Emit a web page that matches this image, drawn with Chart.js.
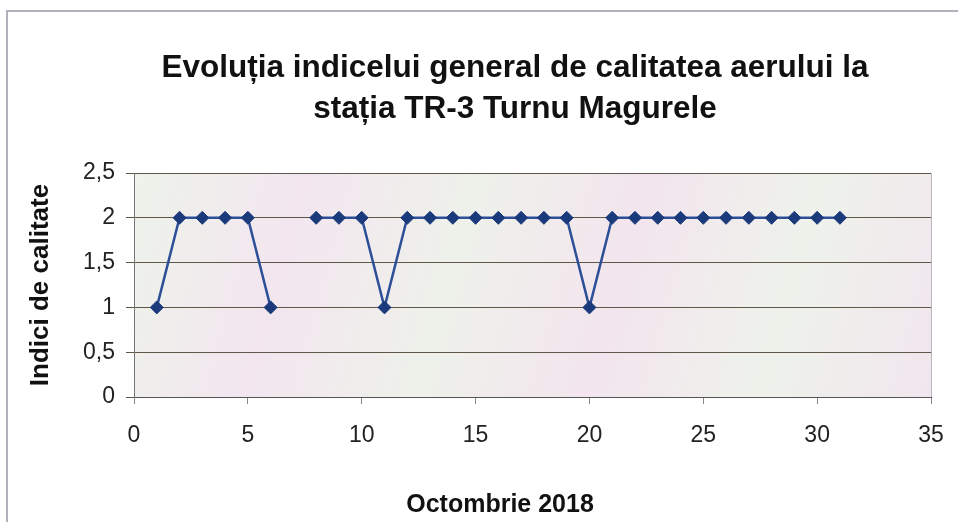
<!DOCTYPE html>
<html>
<head>
<meta charset="utf-8">
<title>Indice calitate aer TR-3</title>
<script src="https://cdn.jsdelivr.net/npm/chart.js@4/dist/chart.umd.min.js"></script>
<style>
  body { margin: 0; background: #fff; }
  canvas { display: block; }
</style>
</head>
<body>
<canvas id="aqChart" width="958" height="522"></canvas>
<script>
// Zilele lunii (octombrie 2018)
const days = [1, 2, 3, 4, 5, 6, 7, 8, 9, 10, 11, 12, 13, 14, 15, 16, 17, 18, 19, 20,
              21, 22, 23, 24, 25, 26, 27, 28, 29, 30, 31];
// Indicele general (ziua 7 lipsa)
const indexValues = [1, 2, 2, 2, 2, 1, null, 2, 2, 2, 1, 2, 2, 2, 2, 2, 2, 2, 2, 1,
                     2, 2, 2, 2, 2, 2, 2, 2, 2, 2, 2];
const xTicks = [0, 5, 10, 15, 20, 25, 30, 35];
const yTicks = [0, 0.5, 1, 1.5, 2, 2.5];

const chartTitle = ['Evoluția indicelui general de calitatea aerului la', 'stația TR-3 Turnu Magurele'];
const xTitle = 'Octombrie 2018';
const yTitle = 'Indici de calitate';

const FONT = '"Liberation Sans", Arial, sans-serif';

// Fundal pastel al zonei de grafic, chenar exterior, titluri
const decorPlugin = {
    id: 'decor',
    beforeDraw(chart) {
        const { ctx, chartArea: a } = chart;
        ctx.save();
        const g = ctx.createLinearGradient(a.left, a.top, a.right, a.bottom);
        g.addColorStop(0, '#edf3ea');
        g.addColorStop(0.2, '#f3e6ef');
        g.addColorStop(0.4, '#eef1ea');
        g.addColorStop(0.6, '#f3e5ee');
        g.addColorStop(0.8, '#eef2eb');
        g.addColorStop(1, '#f1e6ee');
        ctx.fillStyle = g;
        ctx.fillRect(a.left, a.top, a.right - a.left, a.bottom - a.top);
        ctx.strokeStyle = '#b8b8c0';
        ctx.lineWidth = 1;
        ctx.strokeRect(a.left + 0.5, a.top + 0.5, a.right - a.left, a.bottom - a.top);
        // chenar exterior (doar sus si stanga vizibile)
        ctx.strokeStyle = '#b4b0bc';
        ctx.lineWidth = 2;
        ctx.beginPath();
        ctx.moveTo(7, chart.height);
        ctx.lineTo(7, 11);
        ctx.lineTo(chart.width, 11);
        ctx.stroke();
        ctx.restore();
    },
    afterDraw(chart) {
        const { ctx } = chart;
        ctx.save();
        ctx.fillStyle = '#111';
        ctx.textAlign = 'center';
        ctx.textBaseline = 'alphabetic';
        ctx.font = 'bold 31.5px ' + FONT;
        ctx.fillText(chartTitle[0], 515, 77);
        ctx.fillText(chartTitle[1], 515, 118);
        ctx.font = 'bold 25px ' + FONT;
        ctx.fillText(xTitle, 500, 512);
        ctx.restore();
    }
};

new Chart(document.getElementById('aqChart'), {
    type: 'line',
    data: {
        labels: days,
        datasets: [{
            data: days.map((d, i) => ({ x: d, y: indexValues[i] })),
            borderColor: '#2c4f98',
            borderWidth: 2.5,
            backgroundColor: '#1b3a7c',
            pointBackgroundColor: '#1b3a7c',
            pointBorderColor: '#1b3a7c',
            pointBorderWidth: 1,
            pointStyle: 'rectRot',
            pointRadius: 6.5,
            spanGaps: false,
            tension: 0
        }]
    },
    options: {
        responsive: false,
        animation: false,
        layout: { padding: { left: 0, right: 27, top: 173, bottom: 0 } },
        plugins: {
            legend: { display: false },
            tooltip: { enabled: false },
            title: { display: false }
        },
        scales: {
            x: {
                type: 'linear',
                min: 0,
                max: 35,
                afterBuildTicks(scale) { scale.ticks = xTicks.map(v => ({ value: v })); },
                afterFit(scale) {
                    scale.height = 125;
                    scale.paddingLeft = 0;
                    scale.paddingRight = 0;
                },
                border: { display: true, color: '#555', width: 1 },
                grid: { drawOnChartArea: false, drawTicks: true, tickLength: 7, color: '#888' },
                ticks: {
                    color: '#222',
                    padding: 18,
                    font: { family: FONT, size: 23 },
                    maxRotation: 0
                }
            },
            y: {
                type: 'linear',
                min: 0,
                max: 2.5,
                afterBuildTicks(scale) { scale.ticks = yTicks.map(v => ({ value: v })); },
                afterFit(scale) { scale.width = 134; },
                border: { display: true, color: '#777', width: 1 },
                grid: { color: '#5e574a', lineWidth: 1, drawTicks: true, tickLength: 8 },
                ticks: {
                    color: '#222',
                    padding: 11,
                    font: { family: FONT, size: 23 },
                    callback: v => String(v).replace('.', ',')
                },
                title: {
                    display: true,
                    text: yTitle,
                    color: '#111',
                    font: { family: FONT, size: 26, weight: 'bold', lineHeight: 1.2 },
                    padding: { top: 25, bottom: 0 }
                }
            }
        }
    },
    plugins: [decorPlugin]
});
</script>
</body>
</html>
